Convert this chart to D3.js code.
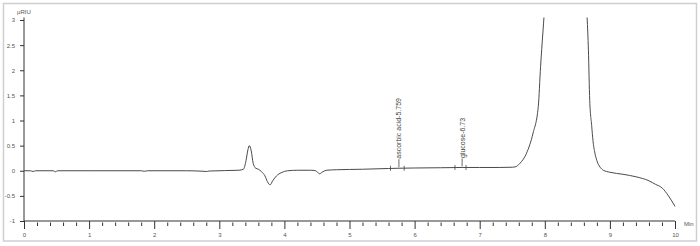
<!DOCTYPE html>
<html><head><meta charset="utf-8">
<script src="https://cdn.jsdelivr.net/npm/d3@7"></script>
<style>
html,body{margin:0;padding:0;background:#fff;}
svg{display:block;font-family:"Liberation Sans",Arial,sans-serif;}
</style></head>
<body><svg id="c" width="700" height="246"></svg>
<script>
// Chromatogram data (time in min, signal in µRIU)
const times  = [0,0.1,0.14,0.18,0.45,0.48,0.52,1.0,1.8,1.85,1.9,2.5,2.75,2.8,2.85,3.3,3.37,3.41,3.44,3.46,3.49,3.52,3.56,3.6,3.65,3.7,3.74,3.78,3.82,3.88,3.95,4.05,4.2,4.4,4.48,4.54,4.59,4.65,4.8,5.2,5.6,5.76,6.0,6.4,6.73,7.0,7.3,7.5,7.54,7.62,7.72,7.82,7.9,7.935,7.97,7.99,8.02,8.3,8.62,8.65,8.67,8.69,8.72,8.74,8.77,8.8,8.85,8.9,9.0,9.2,9.4,9.6,9.7,9.8,9.9,10.0];
const signal = [0,0,-0.015,0,0,-0.02,0,0,0,-0.01,0,0,-0.01,-0.015,-0.005,0.01,0.03,0.2,0.42,0.5,0.4,0.15,0.05,0.03,-0.02,-0.1,-0.22,-0.28,-0.2,-0.1,-0.04,0,0.01,0.01,0,-0.06,-0.02,0.01,0.02,0.03,0.045,0.05,0.055,0.06,0.065,0.065,0.065,0.07,0.075,0.15,0.35,0.75,1.28,2.07,2.74,3.1,3.6,6,3.6,3.05,2.4,1.4,0.9,0.6,0.35,0.2,0.07,0.01,-0.03,-0.07,-0.12,-0.2,-0.27,-0.34,-0.5,-0.71];
const peakNames = ["ascorbic acid-5.759","glucose-6.73"];
const peakTimes = [5.759, 6.73];
const peakStart = [5.63, 6.62];
const peakEnd   = [5.84, 6.79];
const peakValue = [0.05, 0.065];
const xTicks = [0,1,2,3,4,5,6,7,8,9,10];
const yTicks = [-1,-0.5,0,0.5,1,1.5,2,2.5,3];

const svg = d3.select("#c");
svg.append("rect").attr("x",3.5).attr("y",3.5).attr("width",693).attr("height",237.5)
  .attr("fill","none").attr("stroke","#cfcfcf").attr("stroke-width",1.5);

const x = d3.scaleLinear().domain([0,10]).range([24,675]);
const y = d3.scaleLinear().domain([-1,3]).range([221,20]);

const axisColor = "#333", textColor = "#555";

// clip
svg.append("clipPath").attr("id","clip").append("rect")
  .attr("x",24).attr("y",y(3.05)).attr("width",660).attr("height",y(-1)-y(3.05));

// y axis
const ya = svg.append("g").attr("transform","translate(24,0)")
  .call(d3.axisLeft(y).tickValues(yTicks).tickSize(4).tickPadding(5).tickFormat(d=>String(d)));
ya.select(".domain").attr("d",`M0,${y(-1)}V${y(3.05)}`).attr("stroke",axisColor);
ya.selectAll("line").attr("stroke",axisColor);
ya.selectAll("text").attr("font-size",6).attr("fill",textColor);

// x axis minor ticks
const xg = svg.append("g").attr("transform",`translate(0,${y(-1)})`);
const minor = d3.range(0,10.001,0.2).filter(v=>Math.abs(v-Math.round(v))>1e-6);
xg.append("g").call(d3.axisBottom(x).tickValues(minor).tickSize(5).tickFormat(""))
  .call(g=>{g.select(".domain").remove(); g.selectAll("line").attr("stroke",axisColor).attr("y1",1.5);});
const xa = xg.append("g").call(d3.axisBottom(x).tickValues(xTicks).tickSize(8).tickPadding(4).tickFormat(d3.format("d")));
xa.select(".domain").attr("d",`M${x(0)},0H${x(10)}`).attr("stroke",axisColor);
xa.selectAll("line").attr("stroke",axisColor);
xa.selectAll("text").attr("font-size",6).attr("fill",textColor);

svg.append("text").attr("x",684).attr("y",226).attr("font-size",6).attr("fill",textColor).text("Min");
svg.append("text").attr("x",17).attr("y",14).attr("font-size",6).attr("fill",textColor).text("µRIU");

// line
const line = d3.line().x((d,i)=>x(times[i])).y((d,i)=>y(signal[i])).curve(d3.curveMonotoneX);
svg.append("path").datum(signal).attr("clip-path","url(#clip)")
  .attr("d",line).attr("fill","none").attr("stroke","#4a4a4a").attr("stroke-width",1);

// peak annotations
peakNames.forEach((name,i)=>{
  const px = x(peakTimes[i]), py = y(peakValue[i]);
  [peakStart[i],peakEnd[i]].forEach(t=>{
    svg.append("line").attr("x1",x(t)).attr("x2",x(t)).attr("y1",py-2.5).attr("y2",py+2.5)
      .attr("stroke","#444").attr("stroke-width",0.8);
  });
  svg.append("line").attr("x1",px).attr("x2",px).attr("y1",py-1).attr("y2",py-9)
    .attr("stroke","#444").attr("stroke-width",0.8);
  svg.append("text").attr("transform",`translate(${px+2.5},${py-9.5}) rotate(-90)`)
    .attr("font-size",7).attr("fill","#444").text(name);
});
</script></body></html>
